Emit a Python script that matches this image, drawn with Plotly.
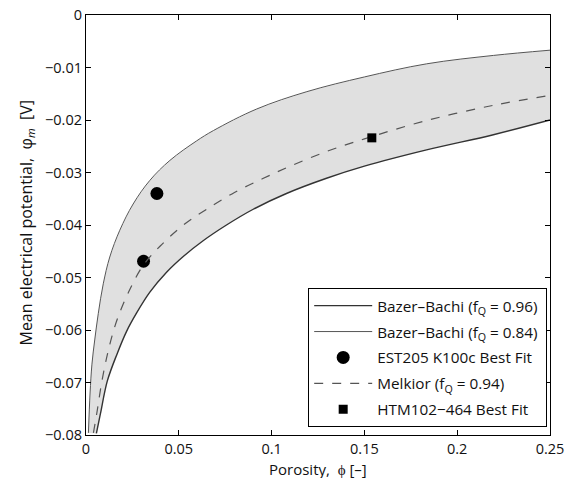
import plotly.graph_objects as go

# Bazer-Bachi (fQ = 0.84) - upper bound curve
bb084_x = [0.0013, 0.0022, 0.0032, 0.0047, 0.0066, 0.0093, 0.0128, 0.0182, 0.0254, 0.0344,
           0.0452, 0.0595, 0.0687, 0.092, 0.119, 0.150, 0.1835, 0.2195, 0.25]
bb084_y = [-0.0796, -0.0720, -0.0665, -0.0619, -0.0569, -0.0512, -0.0461, -0.0410, -0.0360, -0.0315,
           -0.0277, -0.0240, -0.0220, -0.0179, -0.0146, -0.0118, -0.0093, -0.0077, -0.0067]

# Bazer-Bachi (fQ = 0.96) - lower bound curve
bb096_x = [0.0056, 0.0078, 0.0115, 0.0168, 0.0218, 0.0272, 0.0344, 0.0434, 0.0524, 0.0631,
           0.0757, 0.0901, 0.1080, 0.1296, 0.150, 0.1835, 0.2195, 0.25]
bb096_y = [-0.0797, -0.0759, -0.0697, -0.0645, -0.0603, -0.0568, -0.0528, -0.0490, -0.0460, -0.0430,
           -0.0400, -0.0370, -0.0340, -0.0311, -0.0288, -0.0257, -0.0228, -0.0200]

# Melkior (fQ = 0.94)
mk_x = [0.0040, 0.0058, 0.0087, 0.0125, 0.0170, 0.0240, 0.0310, 0.0400, 0.0525, 0.0650,
        0.0800, 0.0950, 0.110, 0.1296, 0.150, 0.1835, 0.2195, 0.25]
mk_y = [-0.0796, -0.0759, -0.0695, -0.0632, -0.0578, -0.0520, -0.0476, -0.0440, -0.0400, -0.0370,
        -0.0338, -0.0312, -0.0288, -0.0260, -0.0236, -0.0201, -0.0172, -0.0153]

# Best fits
est_x = [0.0382, 0.0310]
est_y = [-0.0340, -0.0469]
htm_x = [0.154]
htm_y = [-0.0234]

xticks = [0, 0.05, 0.1, 0.15, 0.2, 0.25]
xtick_text = ["0", "0.05", "0.1", "0.15", "0.2", "0.25"]
yticks = [0, -0.01, -0.02, -0.03, -0.04, -0.05, -0.06, -0.07, -0.08]
ytick_text = ["0", "\u22120.01", "\u22120.02", "\u22120.03", "\u22120.04", "\u22120.05",
              "\u22120.06", "\u22120.07", "\u22120.08"]

FONT = "Open Sans"
TXT = "#111111"

fig = go.Figure()

# shaded band between the two Bazer-Bachi curves
band_x = bb084_x + bb096_x[::-1]
band_y = bb084_y + bb096_y[::-1]
fig.add_trace(go.Scatter(x=band_x, y=band_y, fill="toself", fillcolor="#e0e0e0",
                         line=dict(width=0), mode="lines", showlegend=False, hoverinfo="skip",
                         legendgroup="z"))

fig.add_trace(go.Scatter(x=bb096_x, y=bb096_y, mode="lines", line_shape="spline", legendgroup="a",
                         name="Bazer\u2013Bachi (f<sub>Q</sub> = 0.96)",
                         line=dict(color="#333333", width=1.4)))
fig.add_trace(go.Scatter(x=bb084_x, y=bb084_y, mode="lines", line_shape="spline", legendgroup="b",
                         name="Bazer\u2013Bachi (f<sub>Q</sub> = 0.84)",
                         line=dict(color="#555555", width=1)))
fig.add_trace(go.Scatter(x=est_x, y=est_y, mode="markers", legendgroup="c",
                         name="EST205 K100c Best Fit\u00a0\u00a0",
                         marker=dict(symbol="circle", size=13, color="black")))
fig.add_trace(go.Scatter(x=mk_x, y=mk_y, mode="lines", line_shape="spline", legendgroup="d",
                         name="Melkior (f<sub>Q</sub> = 0.94)",
                         line=dict(color="#555555", width=1.2, dash="dash")))
fig.add_trace(go.Scatter(x=htm_x, y=htm_y, mode="markers", name="HTM102\u2212464 Best Fit", legendgroup="e",
                         marker=dict(symbol="square", size=9, color="black")))

axis_common = dict(showgrid=False, zeroline=False, showline=True, linecolor="black", linewidth=1.2,
                   mirror="ticks", ticks="inside", ticklen=5, tickcolor="black", automargin=False,
                   ticklabeloverflow="allow",
                   tickfont=dict(family=FONT, size=14.5, color=TXT))

fig.update_xaxes(range=[0, 0.25], tickvals=xticks, ticktext=xtick_text, **axis_common)
fig.update_yaxes(range=[-0.08, 0], tickvals=yticks, ticktext=ytick_text, **axis_common)

fig.add_annotation(text="Porosity,  \u03d5 [\u2013]", xref="paper", yref="paper", x=0.5, y=-0.080,
                   xanchor="center", yanchor="middle", showarrow=False,
                   font=dict(family=FONT, size=15, color=TXT))
fig.add_annotation(text="Mean electrical potential,  \u03c6<sub><i>m</i></sub>  [V]", xref="paper", yref="paper",
                   x=-0.128, y=0.505, xanchor="center", yanchor="middle", textangle=-90, showarrow=False,
                   font=dict(family=FONT, size=16, color=TXT))

fig.update_layout(
    width=577, height=478,
    margin=dict(l=78, r=35, t=7, b=51, autoexpand=False),
    plot_bgcolor="white", paper_bgcolor="white",
    font=dict(family=FONT, size=15, color=TXT),
    legend=dict(x=0.9935, y=0.019, xanchor="right", yanchor="bottom",
                bgcolor="white", bordercolor="black", borderwidth=1.2, itemwidth=58,
                tracegroupgap=3,
                font=dict(family=FONT, size=15.3, color=TXT), traceorder="grouped"),
)

fig.write_html("out.html")
